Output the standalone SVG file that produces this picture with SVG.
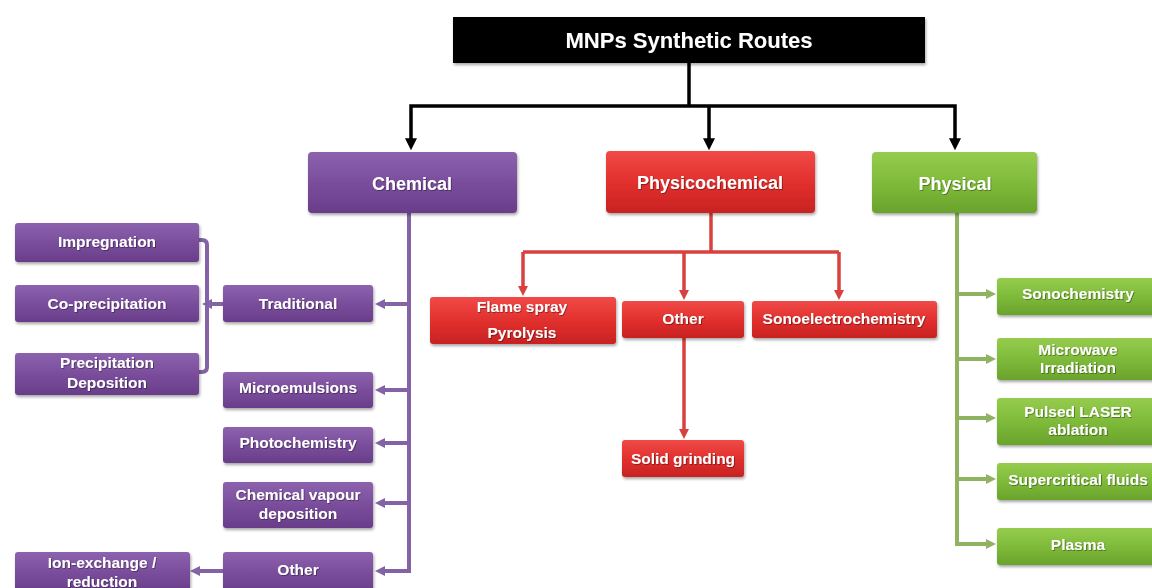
<svg xmlns="http://www.w3.org/2000/svg" width="1152" height="588" viewBox="0 0 1152 588">
<defs>
<linearGradient id="gP" x1="0" y1="0" x2="0" y2="1"><stop offset="0" stop-color="#8c62ae"/><stop offset="0.5" stop-color="#7a4e9c"/><stop offset="1" stop-color="#693d8a"/></linearGradient>
<linearGradient id="gR" x1="0" y1="0" x2="0" y2="1"><stop offset="0" stop-color="#f04a47"/><stop offset="0.5" stop-color="#e2302e"/><stop offset="1" stop-color="#c82222"/></linearGradient>
<linearGradient id="gG" x1="0" y1="0" x2="0" y2="1"><stop offset="0" stop-color="#96cc4e"/><stop offset="0.5" stop-color="#7fbb3a"/><stop offset="1" stop-color="#69a32c"/></linearGradient>
<filter id="sh" x="-10%" y="-20%" width="120%" height="150%"><feDropShadow dx="1" dy="2" stdDeviation="1.5" flood-color="#000" flood-opacity="0.35"/></filter>
<filter id="ts" x="-5%" y="-20%" width="110%" height="150%"><feDropShadow dx="0.8" dy="0.8" stdDeviation="0.4" flood-color="#000" flood-opacity="0.45"/></filter>
<marker id="aK" markerUnits="userSpaceOnUse" markerWidth="12" markerHeight="12" viewBox="0 0 10 10" refX="4" refY="5" orient="auto"><path d="M0,0 L10,5 L0,10 z" fill="#000"/></marker>
<marker id="aP" markerUnits="userSpaceOnUse" markerWidth="10" markerHeight="10" viewBox="0 0 10 10" refX="4" refY="5" orient="auto"><path d="M0,0 L10,5 L0,10 z" fill="#8363a6"/></marker>
<marker id="aR" markerUnits="userSpaceOnUse" markerWidth="10" markerHeight="10" viewBox="0 0 10 10" refX="4" refY="5" orient="auto"><path d="M0,0 L10,5 L0,10 z" fill="#d9413e"/></marker>
<marker id="aG" markerUnits="userSpaceOnUse" markerWidth="10" markerHeight="10" viewBox="0 0 10 10" refX="4" refY="5" orient="auto"><path d="M0,0 L10,5 L0,10 z" fill="#8fb360"/></marker>
</defs>
<style>
text{font-family:"Liberation Sans",Arial,sans-serif;font-weight:bold;fill:#fff;text-anchor:middle;filter:url(#ts)}
.t{font-size:22px}
.m{font-size:18px}
.c{font-size:15.5px}
.bp{fill:url(#gP);filter:url(#sh)}
.br{fill:url(#gR);filter:url(#sh)}
.bg{fill:url(#gG);filter:url(#sh)}
.k{fill:none;stroke:#000;stroke-width:3.5}
.p{fill:none;stroke:#8363a6;stroke-width:4}
.r{fill:none;stroke:#d9413e;stroke-width:3.5}
.g{fill:none;stroke:#8fb360;stroke-width:4}
</style>
<rect width="1152" height="588" fill="#fff"/>

<g id="connectors">
<path class="k" d="M689,63 V106"/>
<path class="k" d="M689,106 H411 V143" marker-end="url(#aK)"/>
<path class="k" d="M689,106 H955 V143" marker-end="url(#aK)"/>
<path class="k" d="M709,106 V143" marker-end="url(#aK)"/>

<path class="p" d="M409,213 V571 H381" marker-end="url(#aP)"/>
<path class="p" d="M409,304 H381" marker-end="url(#aP)"/>
<path class="p" d="M409,390 H381" marker-end="url(#aP)"/>
<path class="p" d="M409,443 H381" marker-end="url(#aP)"/>
<path class="p" d="M409,503 H381" marker-end="url(#aP)"/>
<path class="p" d="M199,240 H202 Q207,240 207,245 V367 Q207,372 202,372 H199"/>
<path class="p" d="M223,304 H208" marker-end="url(#aP)"/>
<path class="p" d="M223,571 H196" marker-end="url(#aP)"/>

<path class="r" d="M711,213 V252"/>
<path class="r" d="M523,252 H839"/>
<path class="r" d="M523,252 V290" marker-end="url(#aR)"/>
<path class="r" d="M684,252 V294" marker-end="url(#aR)"/>
<path class="r" d="M839,252 V294" marker-end="url(#aR)"/>
<path class="r" d="M684,338 V433" marker-end="url(#aR)"/>

<path class="g" d="M957,213 V544 H990" marker-end="url(#aG)"/>
<path class="g" d="M957,294 H990" marker-end="url(#aG)"/>
<path class="g" d="M957,359 H990" marker-end="url(#aG)"/>
<path class="g" d="M957,418 H990" marker-end="url(#aG)"/>
<path class="g" d="M957,479 H990" marker-end="url(#aG)"/>
</g>

<g id="title"><rect x="453" y="17" width="472" height="46" fill="#000" filter="url(#sh)"/><text class="t" x="689" y="48">MNPs Synthetic Routes</text></g>

<g id="chemical"><rect class="bp" x="308" y="152" width="209" height="61" rx="4"/><text class="m" x="412" y="190">Chemical</text></g>
<g id="physicochemical"><rect class="br" x="606" y="151" width="209" height="62" rx="4"/><text class="m" x="710" y="189">Physicochemical</text></g>
<g id="physical"><rect class="bg" x="872" y="152" width="165" height="61" rx="4"/><text class="m" x="955" y="190">Physical</text></g>

<g id="traditional"><rect class="bp" x="223" y="285" width="150" height="37" rx="3"/><text class="c" x="298" y="309">Traditional</text></g>
<g id="microemulsions"><rect class="bp" x="223" y="372" width="150" height="36" rx="3"/><text class="c" x="298" y="393">Microemulsions</text></g>
<g id="photochemistry"><rect class="bp" x="223" y="427" width="150" height="36" rx="3"/><text class="c" x="298" y="448">Photochemistry</text></g>
<g id="cvd"><rect class="bp" x="223" y="482" width="150" height="46" rx="3"/><text class="c" x="298" y="500">Chemical vapour</text><text class="c" x="298" y="519">deposition</text></g>
<g id="chem-other"><rect class="bp" x="223" y="552" width="150" height="40" rx="3"/><text class="c" x="298" y="575">Other</text></g>
<g id="impregnation"><rect class="bp" x="15" y="223" width="184" height="39" rx="3"/><text class="c" x="107" y="247">Impregnation</text></g>
<g id="coprecipitation"><rect class="bp" x="15" y="285" width="184" height="37" rx="3"/><text class="c" x="107" y="309">Co-precipitation</text></g>
<g id="precipdep"><rect class="bp" x="15" y="353" width="184" height="42" rx="3"/><text class="c" x="107" y="368">Precipitation</text><text class="c" x="107" y="388">Deposition</text></g>
<g id="ionexchange"><rect class="bp" x="15" y="552" width="175" height="40" rx="3"/><text class="c" x="102" y="568">Ion-exchange /</text><text class="c" x="102" y="587">reduction</text></g>

<g id="flamespray"><rect class="br" x="430" y="297" width="186" height="47" rx="3"/><text class="c" x="522" y="312">Flame spray</text><text class="c" x="522" y="338">Pyrolysis</text></g>
<g id="pc-other"><rect class="br" x="622" y="301" width="122" height="37" rx="3"/><text class="c" x="683" y="324">Other</text></g>
<g id="sonoelectro"><rect class="br" x="752" y="301" width="185" height="37" rx="3"/><text class="c" x="844" y="324">Sonoelectrochemistry</text></g>
<g id="solidgrinding"><rect class="br" x="622" y="440" width="122" height="37" rx="3"/><text class="c" x="683" y="464">Solid grinding</text></g>

<g id="sonochemistry"><rect class="bg" x="997" y="278" width="165" height="37" rx="3"/><text class="c" x="1078" y="299">Sonochemistry</text></g>
<g id="microwave"><rect class="bg" x="997" y="338" width="165" height="42" rx="3"/><text class="c" x="1078" y="355">Microwave</text><text class="c" x="1078" y="373">Irradiation</text></g>
<g id="laser"><rect class="bg" x="997" y="398" width="165" height="47" rx="3"/><text class="c" x="1078" y="417">Pulsed LASER</text><text class="c" x="1078" y="435">ablation</text></g>
<g id="supercritical"><rect class="bg" x="997" y="463" width="165" height="37" rx="3"/><text class="c" x="1078" y="485">Supercritical fluids</text></g>
<g id="plasma"><rect class="bg" x="997" y="528" width="165" height="37" rx="3"/><text class="c" x="1078" y="550">Plasma</text></g>
</svg>
